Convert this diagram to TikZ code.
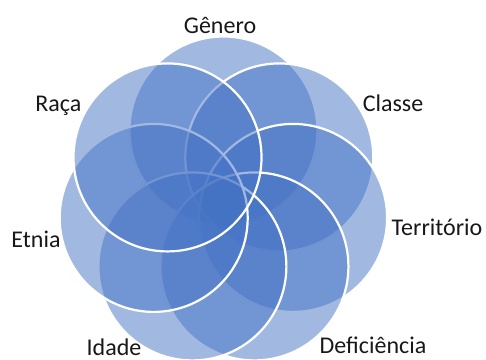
\documentclass[tikz,border=0pt]{standalone}
\usepackage{fontspec}
\setmainfont{Carlito}
\definecolor{acc}{RGB}{68,114,196}
\definecolor{txt}{RGB}{24,24,24}
\begin{document}
\begin{tikzpicture}[x=0.5pt,y=-0.5pt,
  petal/.style={fill=acc,fill opacity=0.5,draw=white,line width=1.1pt},
  lbl/.style={anchor=base,inner sep=0pt,text=txt,font=\fontsize{12}{14}\selectfont}]
\useasboundingbox (0,0) rectangle (486,359);
\foreach \i/\n in {0/gen,1/cla,2/ter,3/def,4/ida,5/etn,6/rac}{
  \coordinate (\n) at ({223.4+71.5*sin(\i*360/7)},{202-71.5*cos(\i*360/7)});
}
\foreach \n in {gen,cla,ter,def,ida,etn,rac}{
  \draw[petal] (\n) circle[radius=94];
}
\node[lbl] (lgen) at (220,33) {Gênero};
\node[lbl] (lcla) at (393,111) {Classe};
\node[lbl] (lter) at (437,235) {Território};
\node[lbl] (ldef) at (373,353.3) {Deficiência};
\node[lbl] (lida) at (114,355.5) {Idade};
\node[lbl] (letn) at (36,247.7) {Etnia};
\node[lbl] (lrac) at (58.3,111) {Raça};
\end{tikzpicture}
\end{document}
